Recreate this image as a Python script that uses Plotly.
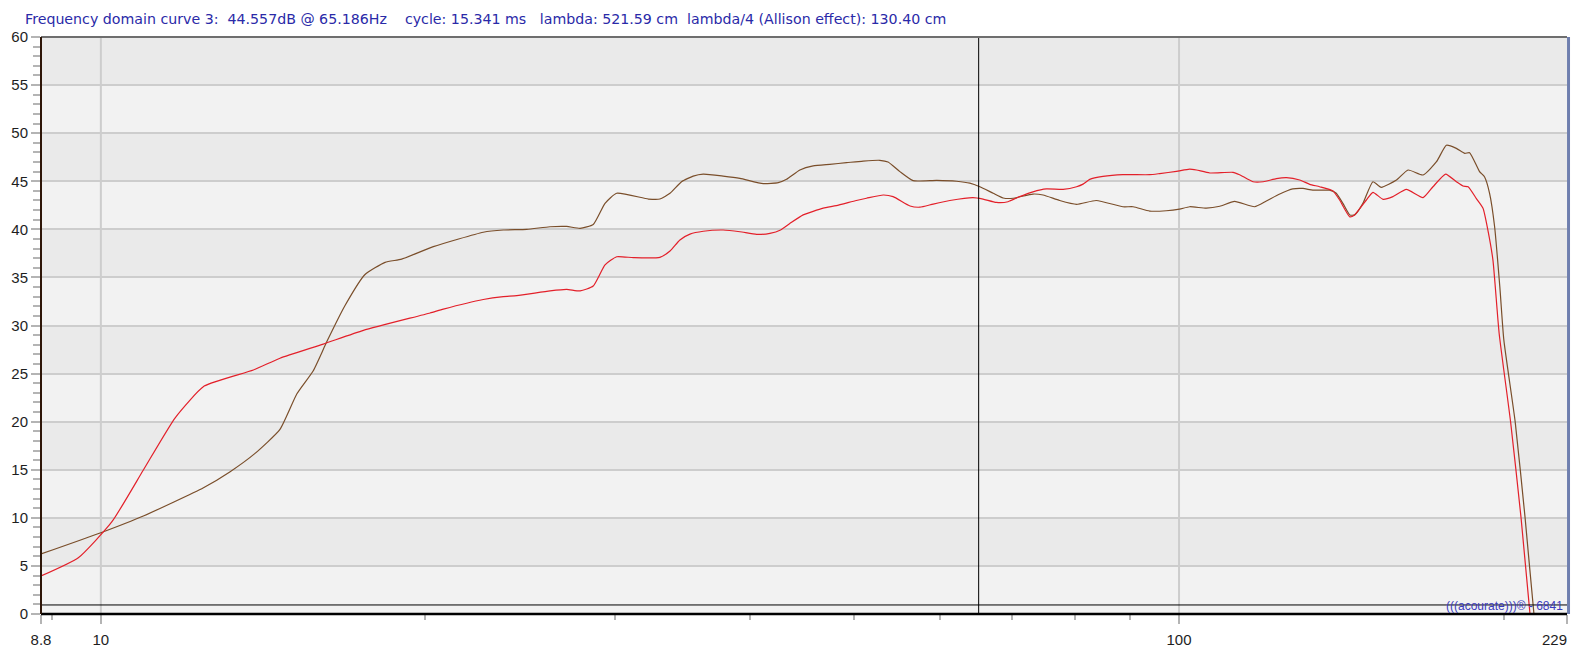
import plotly.graph_objects as go

# ---------------- data ----------------
red_freq = [8.8, 9.53, 10.24, 10.95, 11.72, 12.47, 13.85, 14.66, 16.08, 17.52, 20.2, 20.78,
            22.63, 23.62, 24.31, 26.1, 27.04, 27.83, 28.62, 29.35, 30.09, 31.18, 33.0, 33.72,
            34.44, 35.19, 36.2, 37.77, 39.15, 40.57, 41.74, 42.7, 43.55, 44.81, 46.77, 48.1,
            50.2, 51.3, 53.17, 54.3, 56.3, 57.5, 59.15, 61.3, 64.4, 65.8, 67.7, 69.4, 71.15,
            73.2, 75.34, 78.07, 80.35, 81.47, 82.64, 85.0, 88.7, 93.93, 95.96, 99.45, 102.3,
            103.8, 106.8, 112.2, 113.8, 117.1, 119.7, 123.1, 125.8, 129.4, 132.2, 135.0, 138.9,
            140.9, 144.0, 145.5, 149.2, 151.3, 154.6, 157.9, 162.5, 168.4, 172.0, 176.7, 180.8,
            183.4, 185.4, 188.7, 191.4, 193.4, 195.5, 198.1, 203.0, 207.6, 211.6, 214.0]
red_db = [3.95, 5.85, 9.6, 14.97, 20.4, 23.7, 25.37, 26.6, 28.07, 29.5, 31.3, 31.7,
          32.7, 33.0, 33.1, 33.6, 33.76, 33.6, 34.1, 36.3, 37.15, 37.05, 37.09, 37.75,
          38.9, 39.5, 39.8, 39.93, 39.75, 39.47, 39.58, 39.93, 40.6, 41.5, 42.2, 42.46,
          43.0, 43.23, 43.57, 43.4, 42.43, 42.3, 42.63, 43.0, 43.3, 43.15, 42.8, 42.87, 43.4,
          43.9, 44.2, 44.16, 44.43, 44.7, 45.2, 45.5, 45.68, 45.68, 45.8, 46.03, 46.27,
          46.17, 45.86, 45.93, 45.68, 44.95, 44.95, 45.27, 45.37, 45.13, 44.68, 44.43, 44.0,
          43.05, 41.3, 41.5, 43.05, 43.85, 43.12, 43.4, 44.16, 43.3, 44.43, 45.75, 44.95,
          44.5, 44.43, 43.2, 42.2, 39.93, 36.8, 29.2, 20.0, 10.0, 0.0, -5.0]

brown_freq = [8.8, 10.0, 10.95, 12.45, 13.18, 13.9, 14.66, 15.2, 15.74, 16.2, 16.85, 17.58,
              18.35, 19.01, 20.34, 22.63, 23.62, 24.83, 26.1, 27.04, 27.83, 28.62, 29.35,
              30.09, 32.2, 33.0, 33.72, 34.56, 35.43, 36.2, 37.77, 39.15, 41.15, 42.49, 43.25,
              44.5, 45.78, 47.44, 49.16, 50.93, 52.78, 53.72, 55.09, 56.67, 59.6, 62.2, 63.97,
              65.35, 67.24, 68.68, 70.17, 73.2, 74.8, 77.5, 80.35, 83.8, 88.7, 90.66, 93.93,
              97.3, 100.1, 102.3, 106.0, 109.1, 112.6, 117.5, 120.5, 124.0, 127.5, 130.3,
              133.1, 137.9, 139.9, 141.9, 144.0, 145.5, 148.1, 151.3, 154.0, 159.1, 163.1,
              168.4, 173.3, 177.0, 180.8, 184.1, 186.0, 190.0, 192.0, 194.1, 196.2, 198.4,
              200.1, 205.0, 209.4, 213.4, 216.0]
brown_db = [6.24, 8.45, 10.19, 13.13, 14.8, 16.7, 19.2, 22.9, 25.3, 28.3, 32.1, 35.3,
            36.57, 36.9, 38.2, 39.7, 39.93, 40.0, 40.27, 40.3, 40.1, 40.5, 42.7,
            43.75, 43.15, 43.15, 43.75, 44.95, 45.54, 45.75, 45.54, 45.3, 44.75, 44.85, 45.2,
            46.17, 46.6, 46.76, 46.93, 47.1, 47.18, 47.0, 46.0, 45.06, 45.1, 45.0, 44.8,
            44.43, 43.75, 43.26, 43.23, 43.67, 43.57, 43.0, 42.6, 43.0, 42.35, 42.35, 41.9,
            41.93, 42.1, 42.35, 42.2, 42.4, 42.9, 42.35, 42.95, 43.67, 44.2, 44.25,
            44.07, 44.07, 43.75, 42.7, 41.5, 41.5, 42.7, 44.95, 44.37, 45.13, 46.17,
            45.65, 47.03, 48.74, 48.42, 47.9, 47.97, 46.0, 45.47, 43.75, 40.27, 34.0,
            28.5, 20.0, 10.0, 0.0, -5.0]

x_major_ticks = [8.8, 10, 100, 229]
x_major_labels = ["8.8", "10", "100", "229" + "\u00a0" * 6]
x_minor_ticks = [9, 20, 30, 40, 50, 60, 70, 80, 90, 200]
x_grid = [10, 100]
y_ticks = list(range(0, 61, 5))
cursor_freq = 65.186
ref_level_db = 0.94

title_text = ("Frequency domain curve 3:\u00a0\u00a044.557dB @ 65.186Hz\u00a0\u00a0\u00a0\u00a0cycle: 15.341 ms"
              "\u00a0\u00a0\u00a0lambda: 521.59 cm\u00a0\u00a0lambda/4 (Allison effect): 130.40 cm")
watermark = "(((acourate)))\u00ae - 6841"

# ---------------- figure ----------------
fig = go.Figure()
fig.add_trace(go.Scatter(x=brown_freq, y=brown_db, mode="lines",
                         line=dict(color="#7A4E2A", width=1.2, shape="spline", smoothing=0.5),
                         showlegend=False, hoverinfo="skip"))
fig.add_trace(go.Scatter(x=red_freq, y=red_db, mode="lines",
                         line=dict(color="#E3202A", width=1.2, shape="spline", smoothing=0.5),
                         showlegend=False, hoverinfo="skip"))

shapes = []
# alternating bands
for k in range(0, 12):
    if k % 2 == 1:
        shapes.append(dict(type="rect", xref="paper", yref="y", x0=0, x1=1, y0=5 * k, y1=5 * k + 5,
                           fillcolor="#EAEAEA", line=dict(width=0), layer="below"))
# vertical grid lines
for g in x_grid:
    shapes.append(dict(type="line", xref="x", yref="paper", x0=g, x1=g, y0=0, y1=1,
                       line=dict(color="#CDCDCD", width=2), layer="below"))
# cursor line
shapes.append(dict(type="line", xref="x", yref="paper", x0=cursor_freq, x1=cursor_freq, y0=0, y1=1,
                   line=dict(color="#000000", width=1), layer="above"))
# reference horizontal line
shapes.append(dict(type="line", xref="paper", yref="y", x0=0, x1=1, y0=ref_level_db, y1=ref_level_db,
                   line=dict(color="#000000", width=1), layer="above"))
# borders
shapes.append(dict(type="line", xref="paper", yref="paper", x0=0, x1=1, y0=1, y1=1,
                   line=dict(color="#6E6E6E", width=2), layer="above"))
shapes.append(dict(type="line", xref="paper", yref="paper", x0=0, x1=1, y0=0, y1=0,
                   line=dict(color="#000000", width=2.5), layer="above"))
shapes.append(dict(type="line", xref="paper", yref="paper", x0=0, x1=0, y0=0, y1=1,
                   line=dict(color="#2E1608", width=2), layer="above"))
shapes.append(dict(type="line", xref="paper", yref="paper", x0=1.001, x1=1.001, y0=0, y1=1,
                   line=dict(color="#6F7FAF", width=3), layer="above"))

fig.update_layout(
    width=1595, height=657, autosize=False,
    margin=dict(l=41, r=28, t=37, b=43),
    paper_bgcolor="#FFFFFF", plot_bgcolor="#F2F2F2",
    font=dict(family="Liberation Sans, Arial, sans-serif", size=15, color="#1E1E1E"),
    shapes=shapes,
    showlegend=False,
    annotations=[
        dict(text=title_text, xref="paper", yref="paper", x=-0.0115, y=1.0, xanchor="left",
             yanchor="bottom", yshift=8, showarrow=False,
             font=dict(family="DejaVu Sans, Verdana, sans-serif", size=14.2, color="#2A2AA8")),
        dict(text=watermark, xref="paper", yref="paper", x=0.999, y=0, xanchor="right",
             yanchor="bottom", yshift=-1, showarrow=False,
             font=dict(family="Liberation Sans, Arial, sans-serif", size=12, color="#3A3ABF")),
    ],
    xaxis=dict(type="log", range=[0.944483, 2.359835], showgrid=False, zeroline=False,
               automargin=False,
               tickmode="array", tickvals=x_major_ticks, ticktext=x_major_labels,
               ticks="outside", ticklen=9, tickwidth=2, tickcolor="#B4B4B4",
               showline=False, ticklabelstandoff=3,
               minor=dict(tickmode="array", tickvals=x_minor_ticks, ticks="outside",
                          ticklen=5, tickwidth=2, tickcolor="#B4B4B4", showgrid=False)),
    yaxis=dict(range=[0, 60], showgrid=True, gridcolor="#CDCDCD", gridwidth=2, zeroline=False,
               automargin=False,
               tickmode="array", tickvals=y_ticks, ticks="outside", ticklen=9, tickwidth=2,
               tickcolor="#B4B4B4", showline=False,
               minor=dict(dtick=1, tick0=0, ticks="outside", ticklen=7, tickwidth=1.5,
                          tickcolor="#B4B4B4", showgrid=False)),
)

fig.write_html("out.html", config={"displayModeBar": False},
               post_script="document.body.style.margin='0';")
